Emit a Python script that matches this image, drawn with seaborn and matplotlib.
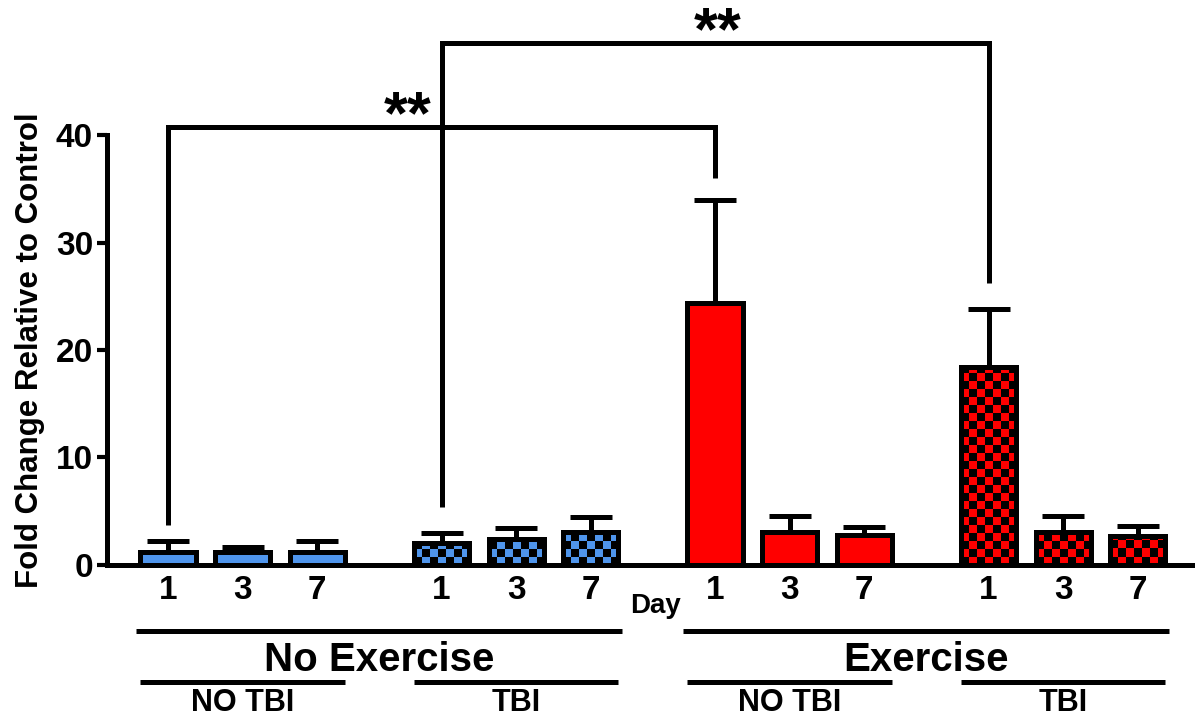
import numpy as np
import pandas as pd
import matplotlib
matplotlib.use("Agg")
import matplotlib.pyplot as plt
import matplotlib.transforms as mtransforms
from matplotlib.colors import ListedColormap
import seaborn as sns

# ---- data ----
exercise = ["No Exercise"] * 6 + ["Exercise"] * 6
tbi = (["NO TBI"] * 3 + ["TBI"] * 3) * 2
days = ["1", "3", "7"] * 4
means = [1.2, 1.2, 1.2, 2.0, 2.4, 3.1, 24.4, 3.1, 2.8, 18.4, 3.1, 2.7]
errs = [1.0, 0.5, 1.0, 1.0, 1.0, 1.4, 9.6, 1.5, 0.7, 5.4, 1.5, 0.9]
group_labels = ["No Exercise", "Exercise"]
sub_labels = ["NO TBI", "TBI", "NO TBI", "TBI"]
yticks = [0, 10, 20, 30, 40]
ylabel = "Fold Change Relative to Control"
stars = "**"

colors = {"No Exercise": "#4F95EC", "Exercise": "#FF0000"}

sns.set_style("white")
plt.rcParams["font.family"] = ["Liberation Sans", "DejaVu Sans"]
plt.rcParams["font.weight"] = "bold"
plt.rcParams["text.color"] = "black"
plt.rcParams["axes.labelcolor"] = "black"
plt.rcParams["xtick.color"] = "black"
plt.rcParams["ytick.color"] = "black"

# layout positions
GAP = 3.67
pos = [g * GAP + d for g in range(4) for d in range(3)]

df = pd.DataFrame({"pos": pos, "val": means, "ex": exercise, "tbi": tbi, "day": days})

fig = plt.figure(figsize=(11.95, 7.22), dpi=100)
ax = fig.add_axes([0.0895, 0.2175, 0.908, 0.5955])

sns.barplot(data=df, x="pos", y="val", hue="ex", palette=colors, native_scale=True,
            dodge=False, width=0.74, edgecolor="black", linewidth=3.6, legend=False,
            errorbar=None, saturation=1, ax=ax, zorder=3)

ax.set_xlim(-0.82, 13.74)
ax.set_ylim(0, 40)

for p in list(ax.patches):
    cx = p.get_x() + p.get_width() / 2
    i = int(np.argmin([abs(cx - q) for q in pos]))
    p.set_zorder(4)
    if tbi[i] == "TBI":
        x0, w, h = p.get_x(), p.get_width(), p.get_height()
        nx = max(1, int(round(w / 0.107)))
        ny = max(1, int(round(h / 0.744)) + 1)
        checker = (np.add.outer(np.arange(ny), np.arange(nx)) % 2).astype(float)
        col = colors[exercise[i]]
        p.set_facecolor("none")
        im = ax.imshow(checker, extent=[x0, x0 + w, 0, ny * 0.744], origin="lower",
                       cmap=ListedColormap(["black", col]), interpolation="nearest",
                       aspect="auto", zorder=3.5)
        im.set_clip_path(p)
    ax.errorbar(cx, means[i], yerr=[[0], [errs[i]]], fmt="none", ecolor="black",
                elinewidth=3.6, capsize=15, capthick=3.6, zorder=2)

ax.set_xlim(-0.82, 13.74)
ax.set_ylim(0, 40)

sns.despine(ax=ax, top=True, right=True)
for s in ["left", "bottom"]:
    ax.spines[s].set_linewidth(3.6)
    ax.spines[s].set_color("black")
ax.spines["left"].set_bounds(0, 40)

ax.set_yticks(yticks)
ax.set_yticklabels([str(t) for t in yticks], fontsize=24, fontweight="bold")
ax.tick_params(axis="y", length=7, width=3, direction="out", pad=3, left=True)
ax.set_xticks(pos)
ax.set_xticklabels(days, fontsize=24, fontweight="bold")
ax.tick_params(axis="x", length=0, pad=7)
ax.set_xlabel("")
ax.set_ylabel(ylabel, fontsize=22.5, fontweight="bold", labelpad=8)

# significance brackets
def bracket(i, j, y_top, y_left, y_right, text_x, text_y):
    ax.plot([pos[i], pos[i], pos[j], pos[j]], [y_left, y_top, y_top, y_right],
            color="black", lw=3.6, clip_on=False, zorder=6, solid_joinstyle="miter",
            solid_capstyle="butt")
    ax.text(text_x, text_y, stars, ha="center", va="baseline", fontsize=44,
            fontweight="bold", clip_on=False)

bracket(0, 6, 40.7, 3.7, 36.0, 3.22, 40.2)
bracket(3, 9, 48.6, 5.4, 26.2, 7.38, 48.0)

# group annotations below the axis
trans = mtransforms.blended_transform_factory(ax.transData, ax.transAxes)
ax.text(6.54, -0.095, "Day", transform=trans, ha="center", va="center",
        fontsize=20, fontweight="bold")
g_centers = [(pos[1] + pos[4]) / 2, (pos[7] + pos[10]) / 2]
for c, lab in zip(g_centers, group_labels):
    ax.plot([c - 3.26, c + 3.26], [-0.1535, -0.1535], transform=trans, color="black",
            lw=3.6, clip_on=False, solid_capstyle="butt")
    ax.text(c, -0.222, lab, transform=trans, ha="center", va="center",
            fontsize=29, fontweight="bold")
for g, lab in enumerate(sub_labels):
    c = pos[g * 3 + 1]
    ax.plot([c - 1.37, c + 1.37], [-0.272, -0.272], transform=trans, color="black",
            lw=3.6, clip_on=False, solid_capstyle="butt")
    ax.text(c, -0.322, lab, transform=trans, ha="center", va="center",
            fontsize=22, fontweight="bold")

fig.savefig("out.png", dpi=100)
